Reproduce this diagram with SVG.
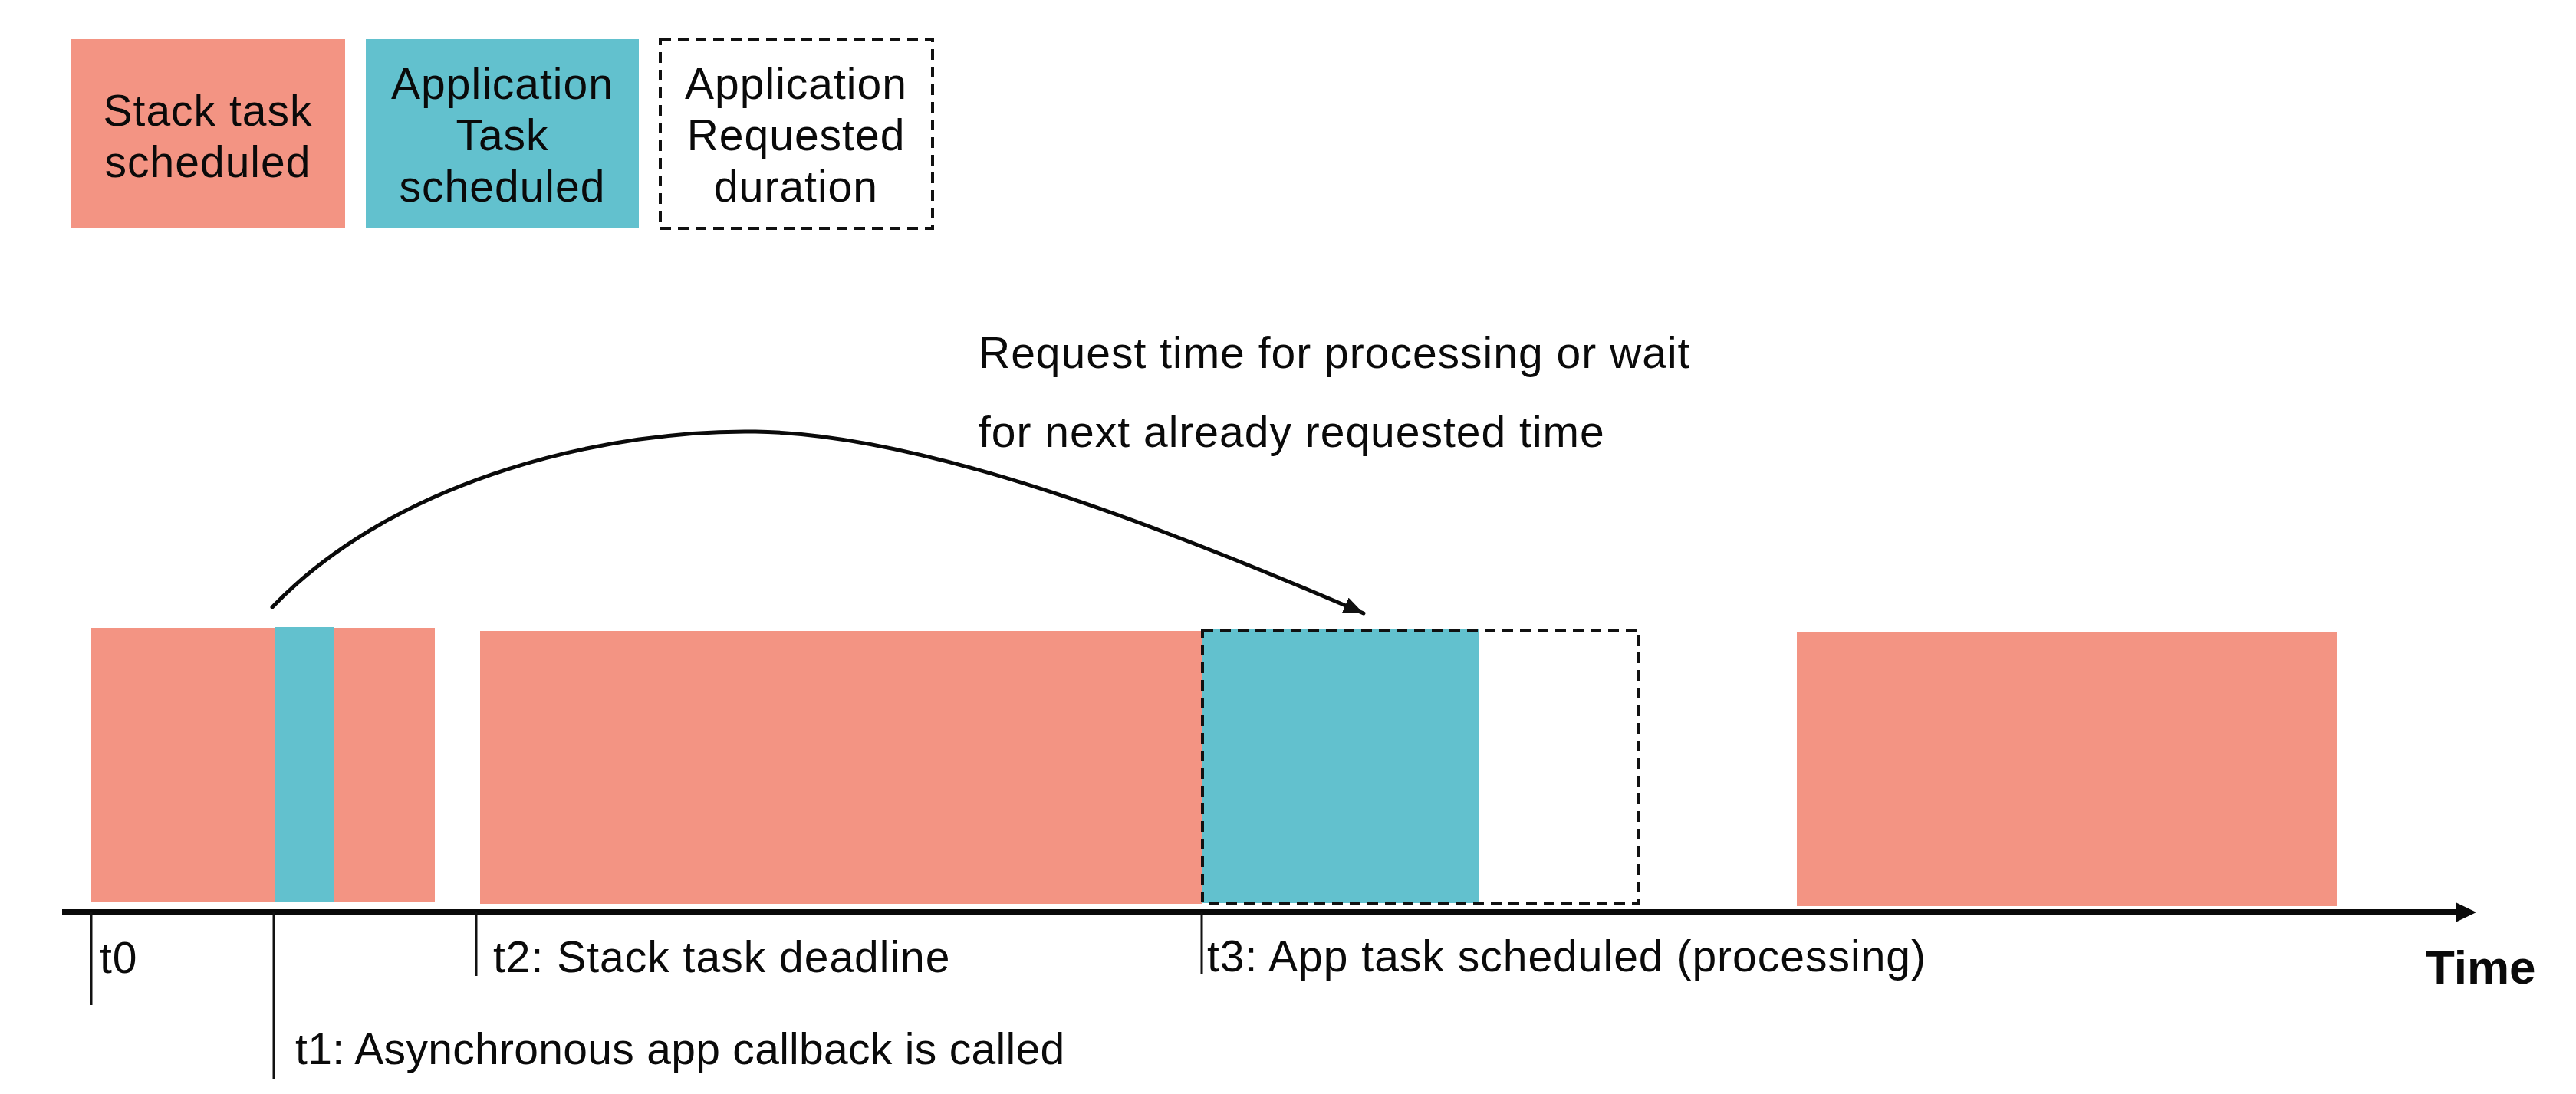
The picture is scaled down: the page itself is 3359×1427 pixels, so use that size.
<svg xmlns="http://www.w3.org/2000/svg" width="3359" height="1427" viewBox="0 0 3359 1427">
<style>
.stack{fill:#F39483}
.app{fill:#62C1CE}
.dash{fill:none;stroke:#111;stroke-width:4;stroke-dasharray:14 9}
.t{font-family:"Liberation Sans",Arial,sans-serif;font-size:57px;fill:#0a0a0a;letter-spacing:1px}
.c{text-anchor:middle}
.tick{stroke:#111;stroke-width:3}
.time{font-family:"Liberation Sans",Arial,sans-serif;font-size:62px;font-weight:bold;fill:#0a0a0a}
</style>
<defs>
<marker id="ah" markerUnits="userSpaceOnUse" markerWidth="30" markerHeight="24" refX="26" refY="11" orient="auto">
<path d="M0,0 L26,11 L0,22 Z" fill="#111"/>
</marker>
</defs>
<rect width="3359" height="1427" fill="#fff"/>
<g id="legend-stack">
<rect class="stack" x="93" y="51" width="357" height="247"/>
<text class="t c" x="271" y="164">Stack task</text>
<text class="t c" x="271" y="231">scheduled</text>
</g>
<g id="legend-app">
<rect class="app" x="477" y="51" width="356" height="247"/>
<text class="t c" x="655" y="129">Application</text>
<text class="t c" x="655" y="196">Task</text>
<text class="t c" x="655" y="263">scheduled</text>
</g>
<g id="legend-requested">
<rect class="dash" x="861" y="51" width="355" height="247"/>
<text class="t c" x="1038" y="129">Application</text>
<text class="t c" x="1038" y="196">Requested</text>
<text class="t c" x="1038" y="263">duration</text>
</g>
<g id="stack-task-1">
<rect class="stack" x="119" y="819" width="448" height="357"/>
</g>
<g id="app-task-1">
<rect class="app" x="358" y="818" width="78" height="358"/>
</g>
<g id="stack-task-2">
<rect class="stack" x="626" y="823" width="942" height="356"/>
</g>
<g id="app-task-2">
<rect class="app" x="1568" y="821" width="360" height="357"/>
<rect class="dash" x="1568" y="822" width="569" height="356"/>
</g>
<g id="stack-task-3">
<rect class="stack" x="2343" y="825" width="704" height="357"/>
</g>
<g id="axis">
<line x1="81" y1="1190" x2="3206" y2="1190" stroke="#0a0a0a" stroke-width="8"/>
<path d="M3202,1177 L3229,1190 L3202,1203 Z" fill="#0a0a0a"/>
<text class="time" x="3163" y="1283">Time</text>
</g>
<g id="tick-t0">
<line class="tick" x1="119" y1="1190" x2="119" y2="1311"/>
<text class="t" x="130" y="1269">t0</text>
</g>
<g id="tick-t1">
<line class="tick" x1="357" y1="1190" x2="357" y2="1408"/>
<text class="t" x="385" y="1388" style="letter-spacing:0.3px">t1: Asynchronous app callback is called</text>
</g>
<g id="tick-t2">
<line class="tick" x1="621" y1="1190" x2="621" y2="1273"/>
<text class="t" x="643" y="1268">t2: Stack task deadline</text>
</g>
<g id="tick-t3">
<line class="tick" x1="1567" y1="1190" x2="1567" y2="1271"/>
<text class="t" x="1574" y="1267">t3: App task scheduled (processing)</text>
</g>
<g id="connectors">
<path d="M355,792 C520,620 800,560 985,563 C1200,566 1500,680 1778,800" fill="none" stroke="#0a0a0a" stroke-width="5" stroke-linecap="round" marker-end="url(#ah)"/>
</g>
<g id="annotation">
<text class="t" x="1276" y="480">Request time for processing or wait</text>
<text class="t" x="1276" y="583">for next already requested time</text>
</g>
</svg>
